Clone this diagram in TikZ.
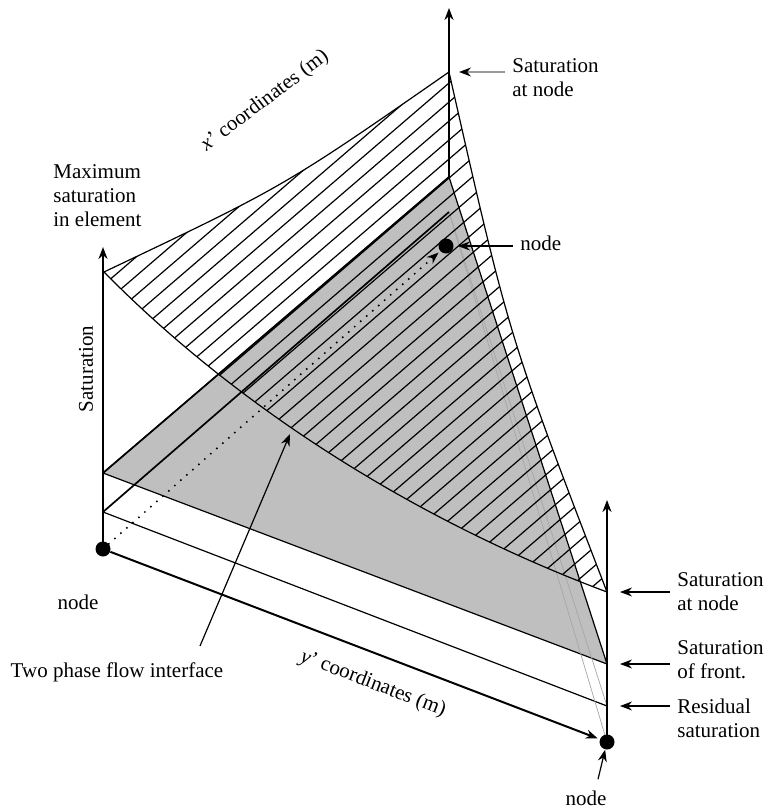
\documentclass[tikz,border=0pt]{standalone}
\usepackage{fontspec}
\setmainfont{Liberation Serif}
\usetikzlibrary{arrows.meta}
\tikzset{
  dot/.style={circle,fill,inner sep=0pt,minimum size=7.5pt},
  axis/.style={line width=1pt},
  edge/.style={line width=0.6pt},
  ridge/.style={line width=0.85pt},
  faint/.style={black!35,line width=0.35pt},
  dotline/.style={line width=1.1pt,dash pattern=on 0pt off 4pt,line cap=round},
  lbl/.style={font=\fontsize{10.5}{12}\selectfont,inner xsep=3.5pt,inner ysep=0pt,align=left},
}
\begin{document}
\begin{tikzpicture}[>={Stealth[length=6pt,width=4.5pt]}]
 \begin{scope}[x=0.5pt,y=-0.5pt]
  \useasboundingbox (0,0) rectangle (769,808);
  \coordinate (A) at (103,549); \coordinate (Ar) at (103,512); \coordinate (Af) at (103,473); \coordinate (Am) at (104,272); \coordinate (At) at (103,247);
  \coordinate (B) at (607,742); \coordinate (Br) at (607,706); \coordinate (Bf) at (607,664); \coordinate (Bs) at (607,592); \coordinate (Bt) at (607,500);
  \coordinate (C) at (446,246); \coordinate (Cr) at (449,212); \coordinate (Cf) at (449,177); \coordinate (Cs) at (449,72); \coordinate (Ct) at (449,8);
  \coordinate (I) at (290,434);
  \draw[edge,fill=black!25] (Af) -- (Cf) -- (Bf) -- cycle;
  \draw[edge] (Ar) -- (Br);
  \draw[faint] (Cr) -- (Br); \draw[faint] (Cr) -- (B);
  \begin{scope}
   \clip (Am) .. controls (285,186) .. (Cs) .. controls (509,337) .. (Bs) .. controls (420,522) and (240,410) .. (Am);
   \foreach \c in {355,374,...,1160} \draw[edge] (0,\c) -- (769,\c-661);
  \end{scope}
  \draw[ridge] (Af) -- (Cf); \draw[ridge] (Ar) -- (Cr);
  \draw[edge] (Am) .. controls (285,186) .. (Cs) .. controls (509,337) .. (Bs) .. controls (420,522) and (240,410) .. (Am);
  \node[dot] (nA) at (A) {}; \node[dot] (nB) at (B) {}; \node[dot] (nC) at (C) {};
  \draw[axis,->] (A) -- (At); \draw[axis,->] (B) -- (Bt); \draw[axis,->] (Cf) -- (Ct);
  \draw[axis,->,shorten >=1pt] (nA) -- (nB);
  \draw[dotline,->,shorten >=1pt] (nA) -- (nC);
  \node[lbl,anchor=west] (maxS) at (46,196) {Maximum\\saturation\\in element};
  \node[lbl,rotate=90] (satL) at (86,369) {Saturation};
  \node[lbl,rotate=37] (xlab) at (265,101) {{\itshape x}’ coordinates (m)};
  \node[lbl,rotate=-21] (ylab) at (373,684) {{\itshape y}’ coordinates (m)};
  \node[lbl,anchor=west] (satC) at (505,78) {Saturation\\at node};
  \node[lbl,anchor=west] (nodeC) at (513,243) {node};
  \node[lbl,anchor=west] (satB) at (670,592) {Saturation\\at node};
  \node[lbl,anchor=west] (front) at (670,660) {Saturation\\of front.};
  \node[lbl,anchor=west] (resid) at (670,718) {Residual\\saturation};
  \node[lbl] (nodeA) at (78,602) {node};
  \node[lbl] (nodeB) at (586,798) {node};
  \node[lbl] (iface) at (117,672) {Two phase flow interface};
  \draw[black!40,line width=0.6pt,-{Stealth[length=6pt,width=4.5pt,black]},shorten >=5pt] (satC.west |- Cs) -- (Cs);
  \draw[edge,->,shorten >=2pt] (nodeC.west |- nC) -- (nC);
  \draw[edge,->,shorten >=6.5pt] (satB.west |- Bs) -- (Bs);
  \draw[edge,->,shorten >=6.5pt] (front.west |- Bf) -- (Bf);
  \draw[edge,->,shorten >=6.5pt] (resid.west |- Br) -- (Br);
  \draw[edge,->] ([xshift=6pt,yshift=5.5pt]nodeB.north) -- (nB);
  \draw[edge,->] ([xshift=41.5pt,yshift=8pt]iface.north) -- (I);
 \end{scope}
\end{tikzpicture}
\end{document}
